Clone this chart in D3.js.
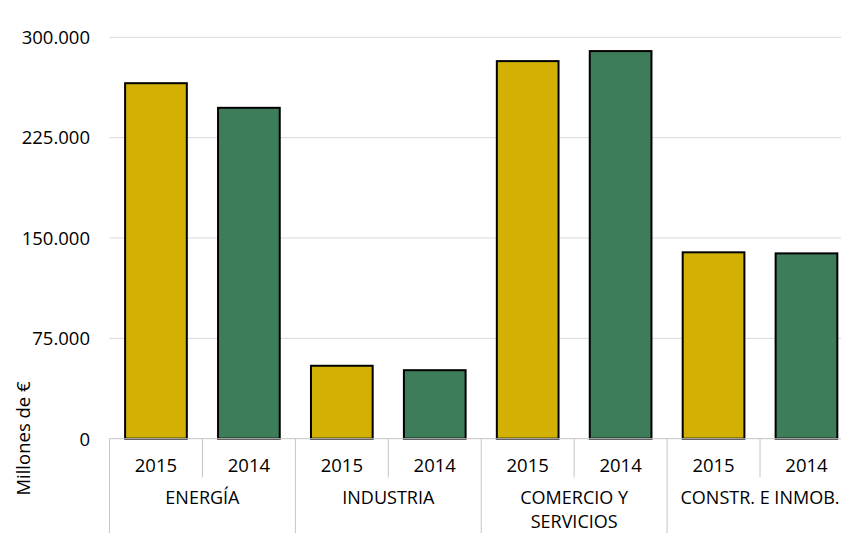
<!DOCTYPE html>
<html>
<head>
<meta charset="utf-8">
<script src="https://cdn.jsdelivr.net/npm/d3@7/dist/d3.min.js"></script>
<style>
  html, body { margin: 0; padding: 0; background: #fff; }
  svg { display: block; font-family: "Open Sans", "Noto Sans", sans-serif; }
</style>
</head>
<body>
<svg id="chart" width="841" height="533"></svg>
<script>
const categories = ["ENERGÍA", "INDUSTRIA", "COMERCIO Y SERVICIOS", "CONSTR. E INMOB."];
const years = ["2015", "2014"];
const values2015 = [265700, 54500, 282200, 139300];
const values2014 = [247300, 51200, 289700, 138500];
const yTicks = [0, 75000, 150000, 225000, 300000];
const yTickLabels = ["0", "75.000", "150.000", "225.000", "300.000"];
const yAxisTitle = "Millones de €";

const colors = { "2015": "#D2B104", "2014": "#3D7D59" };

const svg = d3.select("#chart");
const W = 841, H = 533;
const left = 109.5, step = 92.93;

const rows = [];
categories.forEach((c, i) => {
  rows.push({ cat: c, year: years[0], value: values2015[i], key: c + "|2015" });
  rows.push({ cat: c, year: years[1], value: values2014[i], key: c + "|2014" });
});

const x = d3.scaleBand()
  .domain(rows.map(d => d.key))
  .range([left, left + step * rows.length])
  .paddingInner(0.336)
  .paddingOuter(0.168);

const y = d3.scaleLinear().domain([0, 300000]).range([438.7, 37.3]);

// gridlines
svg.append("g").selectAll("line")
  .data(yTicks.filter(t => t > 0))
  .join("line")
  .attr("x1", left).attr("x2", W)
  .attr("y1", d => y(d)).attr("y2", d => y(d))
  .attr("stroke", "#d9d9d9").attr("stroke-width", 1);

// tick labels
svg.append("g").selectAll("text")
  .data(yTicks)
  .join("text")
  .attr("x", 90)
  .attr("y", d => y(d) + 6.8)
  .attr("text-anchor", "end")
  .attr("font-size", 18.5)
  .attr("fill", "#000")
  .text((d, i) => yTickLabels[i]);

// bars
svg.append("g").selectAll("rect")
  .data(rows)
  .join("rect")
  .attr("x", d => x(d.key))
  .attr("width", x.bandwidth())
  .attr("y", d => y(d.value))
  .attr("height", d => y(0) - y(d.value))
  .attr("fill", d => colors[d.year])
  .attr("stroke", "#000")
  .attr("stroke-width", 2);

// baseline
svg.append("line")
  .attr("x1", left).attr("x2", W)
  .attr("y1", y(0)).attr("y2", y(0))
  .attr("stroke", "#c4c4c4").attr("stroke-width", 1);

// separators
const slotStart = d => x(d.key) - x.step() * x.paddingInner() / 2;
rows.forEach((d, i) => {
  const sx = slotStart(d);
  const isGroup = i % 2 === 0;
  svg.append("line")
    .attr("x1", sx).attr("x2", sx)
    .attr("y1", y(0)).attr("y2", isGroup ? H : 477.3)
    .attr("stroke", "#c4c4c4").attr("stroke-width", 1);
});

// year labels
svg.append("g").selectAll("text")
  .data(rows)
  .join("text")
  .attr("x", d => x(d.key) + x.bandwidth() / 2)
  .attr("y", 471.7)
  .attr("text-anchor", "middle")
  .attr("font-size", 18.5)
  .attr("fill", "#000")
  .text(d => d.year);

// category labels with wrapping
const maxW = 175;
categories.forEach((c, i) => {
  const cx = left + step * (2 * i + 1);
  const t = svg.append("text")
    .attr("x", cx).attr("y", 503.5)
    .attr("text-anchor", "middle")
    .attr("font-size", 18)
    .attr("fill", "#000");
  const words = c.split(" ");
  let line = [];
  let tspan = t.append("tspan").attr("x", cx).attr("dy", 0);
  words.forEach(w => {
    line.push(w);
    tspan.text(line.join(" "));
    if (tspan.node().getComputedTextLength() > maxW && line.length > 1) {
      line.pop();
      tspan.text(line.join(" "));
      line = [w];
      tspan = t.append("tspan").attr("x", cx).attr("dy", 24.6).text(w);
    }
  });
});

// y axis title
svg.append("text")
  .attr("transform", "translate(29.5," + 438.5 + ") rotate(-90)")
  .attr("text-anchor", "middle")
  .attr("font-size", 18.5)
  .attr("fill", "#000")
  .text(yAxisTitle);
</script>
</body>
</html>
